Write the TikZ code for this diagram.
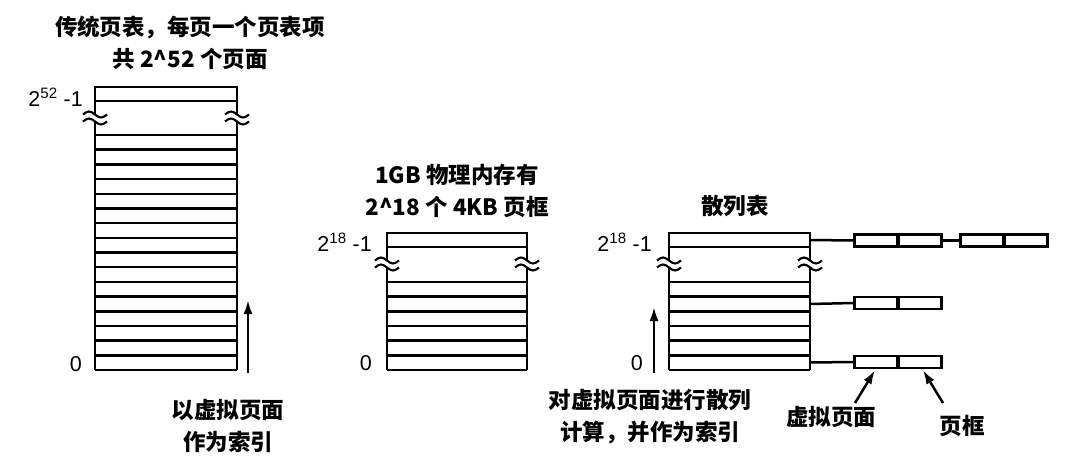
\documentclass[tikz,border=0pt]{standalone}
\usepackage{fontspec}
\setmainfont{Liberation Sans}
\newfontfamily\cjk{Noto Sans CJK SC}
\usetikzlibrary{arrows.meta}
\begin{document}
\begin{tikzpicture}[x=1pt,y=-1pt,line width=2.5pt,
  cjkt/.style={font=\cjk\bfseries\fontsize{22.5}{32}\selectfont,align=center,inner sep=0pt},
  num/.style={font=\fontsize{21.5}{24}\selectfont,inner sep=0pt},
  cell/.style={draw,line width=2.3pt,minimum width=43pt,minimum height=12pt,inner sep=0pt},
  arr/.style={line width=2.5pt,-{Latex[length=14pt,width=9pt]}},
  wave/.pic={
    \draw[line width=2.1pt] (-12,-3.5) sin (-6,-6.5) cos (0,-3.5) sin (6,-0.5) cos (12,-3.5);
    \draw[line width=2.1pt] (-12,3.5) sin (-6,0.5) cos (0,3.5) sin (6,6.5) cos (12,3.5);
  }]
\useasboundingbox (0,0) rectangle (1080,471);

% ---------- Table 1 ----------
\node[cjkt] (t1) at (190,43) {传统页表，每页一个页表项\\共 2\^{}52 个页面};
\draw (95,87) rectangle (237,101);
\draw (95,101) -- (95,114.5) (95,121.5) -- (95,370) (237,101) -- (237,114.5) (237,121.5) -- (237,370);
\foreach \i in {0,...,16} \draw (95,{135+\i*14.6875}) -- (237,{135+\i*14.6875});
\pic at (95,118) {wave};
\pic at (237,118) {wave};
\node[num,anchor=east] (l1a) at (84,97) {2\textsuperscript{52} -1};
\node[num,anchor=east] (l1b) at (83,364) {0};
\coordinate (a1s) at (248,373);
\coordinate (a1e) at (248,300);
\draw[arr] (a1s) -- (a1e);
\node[cjkt] (c1) at (228,426) {以虚拟页面\\作为索引};

% ---------- Table 2 ----------
\node[cjkt] (t2) at (457,191) {1GB 物理内存有\\2\^{}18 个 4KB 页框};
\draw (387,233) rectangle (527,247);
\draw (387,247) -- (387,260.5) (387,267.5) -- (387,370) (527,247) -- (527,260.5) (527,267.5) -- (527,370);
\foreach \i in {0,...,6} \draw (387,{282+\i*14.667}) -- (527,{282+\i*14.667});
\pic at (387,264) {wave};
\pic at (527,264) {wave};
\node[num,anchor=east] (l2a) at (373,242) {2\textsuperscript{18} -1};
\node[num,anchor=east] (l2b) at (373,363) {0};

% ---------- Table 3 ----------
\node[cjkt] (t3) at (735,206) {散列表};
\draw (669,233) rectangle (810,247);
\draw (669,247) -- (669,260.5) (669,267.5) -- (669,370) (810,247) -- (810,260.5) (810,267.5) -- (810,370);
\foreach \i in {0,...,6} \draw (669,{282+\i*14.667}) -- (810,{282+\i*14.667});
\pic at (669,264) {wave};
\pic at (810,264) {wave};
\node[num,anchor=east] (l3a) at (653,242) {2\textsuperscript{18} -1};
\node[num,anchor=east] (l3b) at (644,363) {0};
\coordinate (a3s) at (654,373);
\coordinate (a3e) at (654,307);
\draw[arr] (a3s) -- (a3e);
\node[cjkt] (c3) at (650,417) {对虚拟页面进行散列\\计算，并作为索引};

% chains
\coordinate (r1) at (810,240);
\coordinate (r2) at (810,304);
\coordinate (r3) at (810,362.5);
\node[cell] (p1) at (876,240.5) {};
\node[cell] (f1) at (920,240.5) {};
\node[cell] (p2) at (982,240.5) {};
\node[cell] (f2) at (1026,240.5) {};
\node[cell] (p3) at (876,303) {};
\node[cell] (f3) at (920,303) {};
\node[cell] (p4) at (876,362) {};
\node[cell] (f4) at (920,362) {};
\draw (r1) -- (p1.west);
\draw (f1.east) -- (p2.west);
\draw (r2) -- (p3.west);
\draw (r3) -- (p4.west);

\node[cjkt] (vp) at (831,417) {虚拟页面};
\node[cjkt] (pf) at (962,426) {页框};
\coordinate (vps) at (855,403);
\coordinate (pfs) at (943,403);
\draw[arr] (vps) -- ([xshift=-1pt,yshift=-1pt]p4.south);
\draw[arr] (pfs) -- ([xshift=3pt,yshift=-1pt]f4.south);
\end{tikzpicture}
\end{document}
